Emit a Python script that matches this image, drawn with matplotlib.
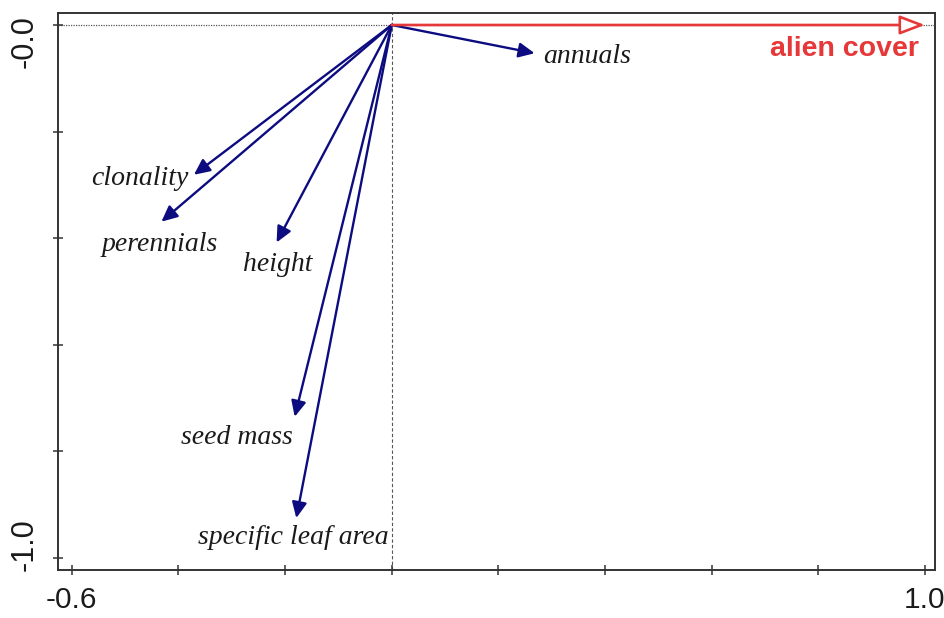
import matplotlib
matplotlib.use("Agg")
import matplotlib.pyplot as plt
import matplotlib.transforms as mtransforms
from matplotlib.patches import FancyArrowPatch

# Trait vectors (biplot scores)
traits = ["annuals", "clonality", "perennials", "height", "seed mass", "specific leaf area"]
trait_x = [0.268, -0.371, -0.432, -0.216, -0.182, -0.179]
trait_y = [-0.053, -0.281, -0.369, -0.408, -0.735, -0.925]

# Environmental vector
env_name = "alien cover"
env_x = 1.0
env_y = 0.0

x_ticks = [-0.6, -0.4, -0.2, 0.0, 0.2, 0.4, 0.6, 0.8, 1.0]
y_ticks = [0.0, -0.2, -0.4, -0.6, -0.8, -1.0]
x_tick_labels = ["-0.6", "", "", "", "", "", "", "", "1.0"]
y_tick_labels = {0.0: "-0.0", -1.0: "-1.0"}

# label placement relative to arrow tips (pixels, ha, va)
label_layout = {
    "annuals": (9, -3, "left", "center"),
    "clonality": (-5, -4, "right", "center"),
    "perennials": (-2, -23, "center", "center"),
    "height": (1, -22, "center", "center"),
    "seed mass": (-2, -21, "right", "center"),
    "specific leaf area": (-3, -19, "center", "center"),
}

DPI = 100
fig = plt.figure(figsize=(9.44, 6.18), dpi=DPI)
ax = fig.add_axes([58 / 944, 1 - 570 / 618, (935 - 58) / 944, (570 - 13) / 618])
ax.set_xlim(-0.626, 1.019)
ax.set_ylim(-1.0225, 0.0225)

navy = "#0c0c80"
red = "#e63838"
txt = "#1a1a1a"
axis_col = "#333333"

for s in ax.spines.values():
    s.set_linewidth(1.4)
    s.set_color(axis_col)

# reference lines through the origin
ax.axhline(0, color="#555555", lw=0.9, ls=(0, (1, 1)), zorder=1)
ax.axvline(0, color="#555555", lw=0.8, ls=(0, (3, 2)), zorder=1)

# ticks
ax.set_xticks(x_ticks)
ax.set_xticklabels(x_tick_labels, fontsize=21.5, family="Liberation Sans", color=txt)
ax.set_yticks(y_ticks)
ax.set_yticklabels([])
ax.tick_params(axis="both", direction="inout", length=6.5, width=1.1, color=axis_col)
ax.tick_params(axis="x", pad=8)

# rotated y-axis labels
ytrans = mtransforms.blended_transform_factory(ax.transAxes, ax.transData)
for val, lab, dy in [(0.0, y_tick_labels[0.0], -17), (-1.0, y_tick_labels[-1.0], 13)]:
    off = mtransforms.ScaledTranslation(0, dy / DPI, fig.dpi_scale_trans)
    ax.text(-33 / 877, val, lab, transform=ytrans + off, rotation=90,
            ha="center", va="center", fontsize=22, family="Liberation Sans", color=txt)

# trait arrows
for name, x, y in zip(traits, trait_x, trait_y):
    arr = FancyArrowPatch((0, 0), (x, y), arrowstyle="-|>,head_length=0.68,head_width=0.32",
                          mutation_scale=14, color=navy, lw=1.7, shrinkA=0, shrinkB=0, zorder=3)
    ax.add_patch(arr)
    dx, dy, ha, va = label_layout[name]
    ax.annotate(name, (x, y), xytext=(dx * 0.72, dy * 0.72), textcoords="offset points",
                ha=ha, va=va, fontsize=20, family="Liberation Serif", style="italic", color=txt)

# environmental arrow (open head)
env = FancyArrowPatch((0, 0), (env_x, env_y), arrowstyle="-|>,head_length=1.1,head_width=0.42",
                      mutation_scale=14, edgecolor=red, facecolor="white", lw=1.9,
                      shrinkA=0, shrinkB=0, zorder=4)
ax.add_patch(env)
ax.annotate(env_name, (env_x, env_y), xytext=(-6 * 0.72, -24 * 0.72), textcoords="offset points",
            ha="right", va="center", fontsize=20.5, family="Liberation Sans", weight="bold", color=red)

fig.savefig("out.png", dpi=DPI)
